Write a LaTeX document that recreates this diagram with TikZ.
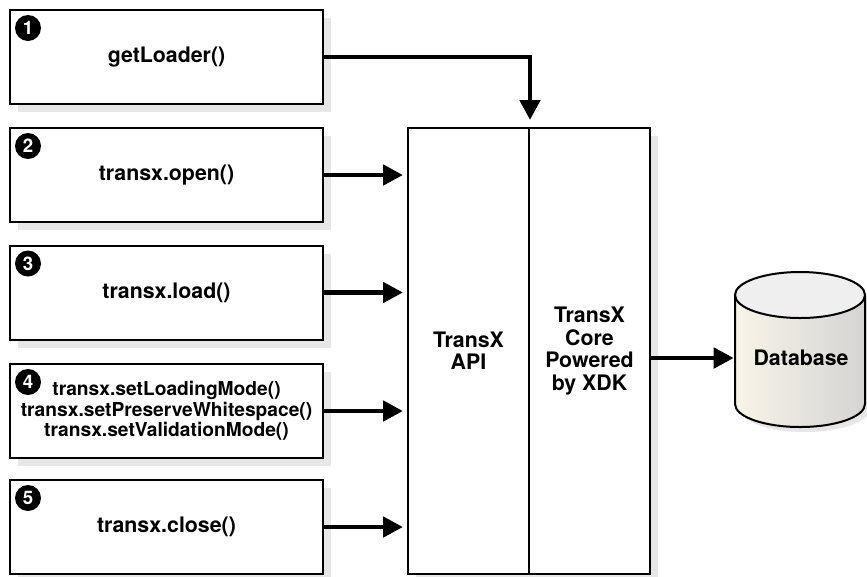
\documentclass[tikz,border=0pt]{standalone}
\usepackage{fontspec}
\setmainfont{TeX Gyre Heros}
\usetikzlibrary{shapes,arrows.meta,positioning,calc,shadows}
\definecolor{shadowgray}{RGB}{231,231,231}
\definecolor{dbcream}{RGB}{248,244,232}
\definecolor{dbgray}{RGB}{212,212,212}
\definecolor{capgray}{RGB}{239,239,239}

\begin{document}
\begin{tikzpicture}[
    x=0.75pt, y=-0.75pt,
    font=\fontsize{16}{16.8}\selectfont\bfseries,
    callbox/.style={rectangle, draw, line width=1.5pt, fill=white, minimum width=234.75pt, minimum height=70.5pt, inner sep=0pt, align=center, drop shadow={shadow xshift=6pt, shadow yshift=-6pt, fill=shadowgray, opacity=1}},
    apibox/.style={rectangle, draw, line width=1.5pt, fill=white, minimum width=90.75pt, minimum height=334.5pt, inner sep=0pt, align=center, drop shadow={shadow xshift=6pt, shadow yshift=-6pt, fill=shadowgray, opacity=1}},
    num/.style={circle, fill=black, text=white, minimum size=19.5pt, inner sep=0pt, font=\fontsize{14}{14}\selectfont\bfseries},
    dblabel/.style={rectangle, minimum width=97.5pt, minimum height=20pt, inner sep=0pt},
    arrow/.style={-{Triangle[length=15pt, width=15pt]}, line width=3.6pt}
]
    \useasboundingbox (0,0) rectangle (867,576);

    % Calls
    \node[callbox] (b1) at (166.5,57) {getLoader()};
    \node[callbox] (b2) at (166.5,175) {transx.open()};
    \node[callbox] (b3) at (166.5,292.5) {transx.load()};
    \node[callbox, font=\fontsize{14.4}{15.4}\selectfont\bfseries] (b4) at (166.5,411) {transx.setLoadingMode()\\transx.setPreserveWhitespace()\\transx.setValidationMode()};
    \node[callbox] (b5) at (166.5,527) {transx.close()};

    % Step numbers
    \node[num] (n1) at ([shift={(19,19)}]b1.north west) {1};
    \node[num] (n2) at ([shift={(19,19)}]b2.north west) {2};
    \node[num] (n3) at ([shift={(19,19)}]b3.north west) {3};
    \node[num] (n4) at ([shift={(19,19)}]b4.north west) {4};
    \node[num] (n5) at ([shift={(19,19)}]b5.north west) {5};

    % TransX
    \node[apibox] (api) at (468.5,351) {TransX\\API};
    \node[apibox] (core) at (589.5,351) {TransX\\Core\\Powered\\by XDK};

    % Database
    \fill[shadowgray] (740,300) -- (740,409) arc[start angle=180, end angle=360, x radius=48.75pt, y radius=17.25pt] -- (870,300) -- cycle;
    \shade[left color=dbcream, right color=dbgray] (735,295) -- (735,404) arc[start angle=180, end angle=360, x radius=48.75pt, y radius=17.25pt] -- (865,295) -- cycle;
    \draw[line width=1.5pt] (735,295) -- (735,404) arc[start angle=180, end angle=360, x radius=48.75pt, y radius=17.25pt] -- (865,295);
    \filldraw[fill=capgray, line width=1.5pt] (800,295) ellipse[x radius=48.75pt, y radius=17.25pt];
    \node[dblabel] (db) at (801,358) {Database};

    % Arrows
    \draw[arrow] (b1.east) -| ($(api.north east)+(0,-7)$);
    \draw[arrow] (b2.east) -- ($(api.west |- b2.east)+(-4,0)$);
    \draw[arrow] (b3.east) -- ($(api.west |- b3.east)+(-4,0)$);
    \draw[arrow] (b4.east) -- ($(api.west |- b4.east)+(-4,0)$);
    \draw[arrow] (b5.east) -- ($(api.west |- b5.east)+(-4,0)$);
    \draw[arrow] (core.east |- db.west) -- ($(db.west)+(-2,0)$);
\end{tikzpicture}
\end{document}
